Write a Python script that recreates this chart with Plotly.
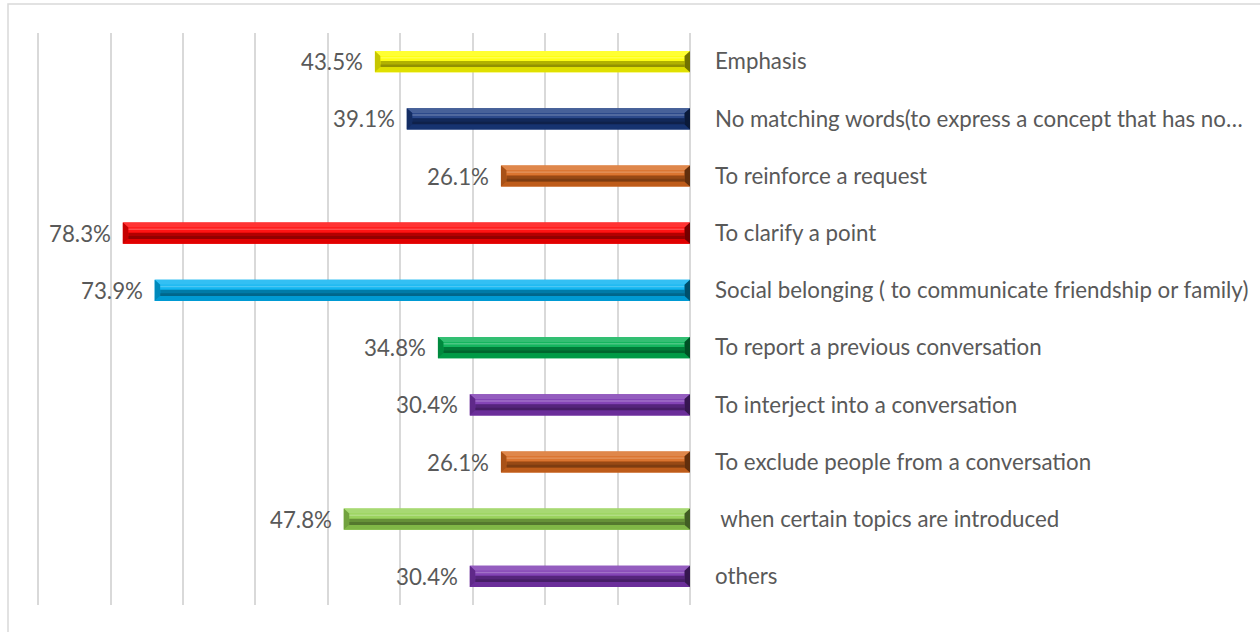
import plotly.graph_objects as go

# Reasons for switching languages (share of respondents, %)
categories = [
    "Emphasis",
    "No matching words(to express a concept that has no\u2026",
    "To reinforce a request",
    "To clarify a point",
    "Social belonging ( to communicate friendship or family)",
    "To report a previous conversation",
    "To interject into a conversation",
    "To exclude people from a conversation",
    " when certain topics are introduced",
    "others",
]
values = [43.5, 39.1, 26.1, 78.3, 73.9, 34.8, 30.4, 26.1, 47.8, 30.4]
bar_colors = [
    "#FFFF00", "#1A3A80", "#D8691E", "#FF0000", "#00B0F0",
    "#00B050", "#7A35B0", "#D8691E", "#92D050", "#7A35B0",
]

TEXT = "#595959"
GRID = "#D9D9D9"
FONT = "Lato"
FONT_SIZE = 22.3
BAR_W = 0.37


def _rgb(h):
    h = h.lstrip("#")
    return [int(h[k:k + 2], 16) for k in (0, 2, 4)]


def lighten(h, f):
    return "#%02X%02X%02X" % tuple(int(c + (255 - c) * f) for c in _rgb(h))


def darken(h, f):
    return "#%02X%02X%02X" % tuple(int(c * (1 - f)) for c in _rgb(h))


ypos = list(range(len(categories)))

fig = go.Figure()

# main bars
fig.add_trace(go.Bar(
    x=values, y=ypos, orientation="h", width=BAR_W,
    marker=dict(color=bar_colors, line=dict(width=0)),
    hovertext=categories, hoverinfo="text+x", showlegend=False,
))

# bevel facets drawn over each bar, derived from its value and row
h = BAR_W / 2
bx = 0.75   # bevel depth along the value axis
by = 0.085  # bevel depth across the bar


def poly(xs, ys, color):
    fig.add_trace(go.Scatter(
        x=xs + [xs[0]], y=ys + [ys[0]], mode="lines", fill="toself",
        fillcolor=color, line=dict(width=0), hoverinfo="skip",
        showlegend=False,
    ))


for i, (v, c) in enumerate(zip(values, bar_colors)):
    top, bot = i - h, i + h
    itop, ibot = top + by, bot - by
    mid = i - 0.01
    # inner face: bright upper half, shaded lower half
    poly([bx, v - bx, v - bx, bx], [itop, itop, mid, mid], lighten(c, 0.08))
    poly([bx, v - bx, v - bx, bx], [itop + 0.02, itop + 0.02, itop + 0.045, itop + 0.045], lighten(c, 0.3))
    poly([bx, v - bx, v - bx, bx], [mid, mid, ibot, ibot], darken(c, 0.3))
    poly([bx, v - bx, v - bx, bx], [mid + 0.06, mid + 0.06, ibot, ibot], darken(c, 0.42))
    # top and bottom slants
    poly([0, v, v - bx, bx], [top, top, itop, itop], lighten(c, 0.2))
    poly([0, v, v - bx, bx], [bot, bot, ibot, ibot], darken(c, 0.12))
    # end slants
    poly([v, v, v - bx, v - bx], [top, bot, ibot, itop], darken(c, 0.22))
    poly([0, 0, bx, bx], [top, bot, ibot, itop], darken(c, 0.55))

# value labels at the outer end of each bar
for i, v in enumerate(values):
    fig.add_annotation(
        x=v, y=i, xref="x", yref="y", text=f"{v:.1f}%", showarrow=False,
        xanchor="right", yanchor="middle", xshift=-10,
        font=dict(family=FONT, size=FONT_SIZE, color=TEXT),
    )

# plot area geometry in pixels
W, H = 1260, 632
L, R, T, B = 37, 570, 33, 27
pw, ph = W - L - R, H - T - B

# outer chart border
fig.add_shape(
    type="rect", xref="paper", yref="paper", layer="below",
    x0=(8 - L) / pw, x1=(W + 4 - L) / pw,
    y0=(H - B - (H + 4)) / ph, y1=(H - B - 4) / ph,
    line=dict(color=GRID, width=1.5), fillcolor="rgba(0,0,0,0)",
)

fig.update_layout(
    width=W, height=H,
    margin=dict(l=L, r=R, t=T, b=B, pad=0, autoexpand=False),
    paper_bgcolor="white", plot_bgcolor="white",
    barmode="overlay",
    font=dict(family=FONT, color=TEXT),
    xaxis=dict(
        range=[90.15, 0], dtick=10, tick0=0, showticklabels=False,
        showgrid=True, gridcolor=GRID, gridwidth=2,
        zeroline=True, zerolinecolor=GRID, zerolinewidth=2,
        showline=False, fixedrange=True, automargin=False,
    ),
    yaxis=dict(
        range=[len(categories) - 0.5, -0.5], side="right",
        tickmode="array", tickvals=ypos, ticktext=categories,
        showgrid=False, zeroline=False, showline=False, ticks="",
        ticklabelstandoff=24, automargin=False,
        tickfont=dict(family=FONT, size=FONT_SIZE, color=TEXT),
        fixedrange=True,
    ),
)

fig.write_html("out.html")
